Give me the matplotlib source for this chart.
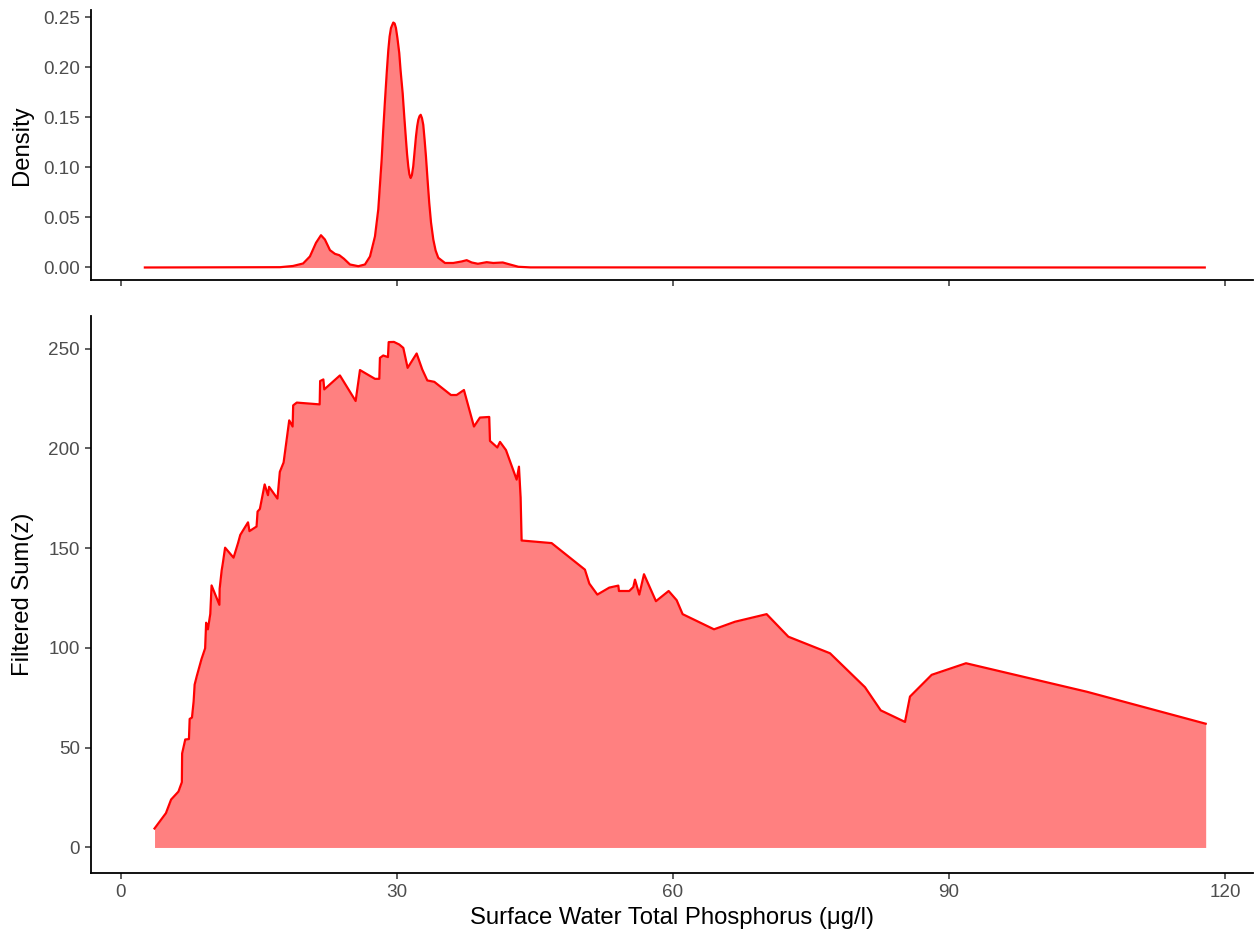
import matplotlib
matplotlib.use("Agg")
import matplotlib.pyplot as plt
from matplotlib.ticker import FormatStrFormatter

plt.rcParams['font.family'] = ['Liberation Sans', 'DejaVu Sans']

# --- density of surface water TP ---
dens_x = [2.6, 17.3, 18.7, 19.8, 20.54, 21.2, 21.74, 22.17, 22.72, 23.26, 23.73,
          24.24, 24.89, 25.8, 26.52, 27.07, 27.61, 27.97, 28.34, 28.5, 28.7,
          28.9, 29.06, 29.2, 29.35, 29.6, 29.75, 29.89, 30.05, 30.25, 30.4,
          30.62, 30.8, 30.98, 31.1, 31.23, 31.35, 31.49, 31.62, 31.77, 31.92,
          32.07, 32.2, 32.32, 32.45, 32.58, 32.72, 32.86, 33.0, 33.15, 33.33,
          33.51, 33.7, 33.95, 34.2, 34.49, 35.22, 36.12, 37.03, 37.58, 38.12,
          38.8, 39.75, 40.47, 41.5, 42.28, 43.2, 44.5, 117.8]
dens_y = [0.0, 0.0003, 0.0015, 0.004, 0.011, 0.0246, 0.0322, 0.0279, 0.0173,
          0.0136, 0.0123, 0.0087, 0.003, 0.0013, 0.003, 0.011, 0.031, 0.058,
          0.108, 0.136, 0.167, 0.196, 0.217, 0.2305, 0.239, 0.2445, 0.2435,
          0.239, 0.229, 0.214, 0.196, 0.174, 0.150, 0.1275, 0.113, 0.101,
          0.093, 0.0893, 0.092, 0.101, 0.116, 0.131, 0.141, 0.1474, 0.151,
          0.1524, 0.149, 0.1424, 0.128, 0.111, 0.087, 0.0644, 0.045, 0.0279,
          0.017, 0.0097, 0.0045, 0.0045, 0.006, 0.0073, 0.005, 0.0037, 0.0053,
          0.0045, 0.005, 0.003, 0.0007, 0.0001, 0.0]

# --- filtered sum(z) along TP (bottom panel) ---
tp = [3.65, 4.89, 5.45, 6.25, 6.62, 6.65, 6.99, 7.39, 7.47, 7.72, 7.90, 8.01,
      8.24, 8.75, 9.15, 9.26, 9.45, 9.71, 9.85, 10.70, 10.73, 10.95, 11.07,
      11.32, 12.24, 12.72, 12.97, 13.81, 13.97, 14.74, 14.85, 15.10, 15.62,
      15.98, 16.10, 17.01, 17.27, 17.68, 18.29, 18.66, 18.72, 19.11, 21.6,
      21.65, 22.0, 22.1, 23.8, 25.51, 25.98, 27.61, 28.08, 28.15, 28.51,
      29.02, 29.1, 29.67, 30.25, 30.69, 31.16, 32.14, 32.75, 33.30, 34.06,
      35.87, 36.49, 37.28, 38.37, 39.02, 40.03, 40.11, 40.91, 41.20, 41.85,
      43.01, 43.26, 43.44, 43.55, 46.81, 50.43, 50.91, 51.78, 53.08, 54.06,
      54.13, 55.25, 55.69, 55.87, 56.34, 56.85, 58.15, 59.53, 60.40, 61.05,
      64.46, 66.74, 70.18, 72.54, 77.07, 80.87, 82.58, 85.22, 85.76, 88.12,
      91.85, 105.0, 117.9]
sum_z = [9.5, 17.2, 24.0, 28.0, 32.7, 47.1, 54.1, 54.3, 64.4, 65.1, 73.2, 81.6,
         85.8, 94.3, 99.8, 112.6, 109.3, 117.0, 131.3, 121.6, 129.7, 138.9,
         142.3, 150.2, 145.2, 152.4, 156.6, 162.9, 158.5, 160.8, 168.3, 169.6,
         181.9, 176.5, 180.7, 174.8, 188.2, 192.9, 214.0, 210.9, 221.5, 222.9,
         222.0, 233.7, 234.5, 229.5, 236.5, 223.7, 239.2, 234.8, 234.8, 245.3,
         246.5, 245.7, 253.2, 253.3, 252.0, 250.3, 240.3, 247.5, 239.5, 234.0,
         233.3, 226.7, 226.7, 229.2, 210.9, 215.4, 215.7, 203.7, 200.4, 203.2,
         199.1, 184.3, 190.8, 175.4, 153.8, 152.5, 139.2, 132.2, 126.7, 130.2,
         131.2, 128.5, 128.5, 130.5, 134.2, 126.7, 136.9, 123.4, 128.5, 123.9,
         116.9, 109.3, 113.1, 116.9, 105.6, 97.3, 80.3, 68.7, 62.9, 75.6, 86.5,
         92.3, 78.0, 62.0]

x_ticks = [0, 30, 60, 90, 120]

fig = plt.figure(figsize=(12.58, 9.34), dpi=100)
ax1 = fig.add_axes([0.0723, 0.7002, 0.9237, 0.2891])
ax2 = fig.add_axes([0.0723, 0.0653, 0.9237, 0.5964])

fill_col = '#FF8080'
line_col = '#FF0000'

# top: density
ax1.fill_between(dens_x, dens_y, 0, color=fill_col, linewidth=0)
ax1.plot(dens_x, dens_y, color=line_col, linewidth=1.6)
ax1.set_ylim(-0.0125, 0.257)
ax1.set_yticks([0, 0.05, 0.10, 0.15, 0.20, 0.25])
ax1.yaxis.set_major_formatter(FormatStrFormatter('%.2f'))
ax1.set_ylabel("Density", fontsize=17.2, labelpad=7)
ax1.tick_params(axis='x', labelbottom=False)

# bottom: filtered sum
ax2.fill_between(tp, sum_z, 0, color=fill_col, linewidth=0)
ax2.plot(tp, sum_z, color=line_col, linewidth=1.6)
ax2.set_ylim(-12.8, 266.3)
ax2.set_yticks([0, 50, 100, 150, 200, 250])
ax2.set_ylabel("Filtered Sum(z)", fontsize=17.2, labelpad=10)
ax2.set_xlabel("Surface Water Total Phosphorus (μg/l)", fontsize=17.2, labelpad=4)

for ax in (ax1, ax2):
    ax.set_xlim(-3.26, 123.04)
    ax.set_xticks(x_ticks)
    for side in ('top', 'right'):
        ax.spines[side].set_visible(False)
    for side in ('left', 'bottom'):
        ax.spines[side].set_linewidth(1.3)
        ax.spines[side].set_color('black')
    ax.tick_params(direction='out', length=4.5, width=1.1, color='#333333',
                   labelcolor='#4D4D4D', labelsize=13.6, pad=3.5)

fig.savefig("out.png", dpi=100)
